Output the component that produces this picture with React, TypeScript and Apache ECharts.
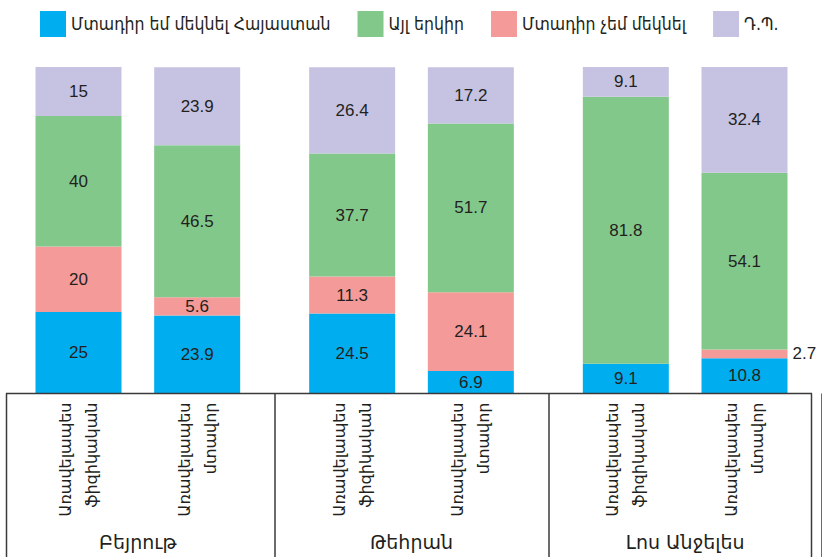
import React, { useEffect, useRef } from "react";
import * as echarts from "echarts";

const cities = ["Բեյրութ", "Թեհրան", "Լոս Անջելես"];
const subCategories = ["Առավելապես\nֆիզիկական", "Առավելապես\nմտավոր"];
const seriesNames = ["Մտադիր եմ մեկնել Հայաստան", "Այլ երկիր", "Մտադիր չեմ մեկնել", "Դ.Պ."];
const colors = ["#00AEEF", "#83C88B", "#F49A98", "#C6C3E2"];

// Առավելապես ֆիզիկական (physical)
const physReturn = [25, 24.5, 9.1];
const physOther = [40, 37.7, 81.8];
const physStay = [20, 11.3, 0];
const physDk = [15, 26.4, 9.1];

// Առավելապես մտավոր (mental)
const mentReturn = [23.9, 6.9, 10.8];
const mentOther = [46.5, 51.7, 54.1];
const mentStay = [5.6, 24.1, 2.7];
const mentDk = [23.9, 17.2, 32.4];

const ARM_FONT = "'DejaVu Sans', 'Liberation Sans', sans-serif";
const ARM_COND_FONT = "'DejaVu Sans Condensed', 'DejaVu Sans', sans-serif";
const NUM_FONT = "'Liberation Sans', Arial, sans-serif";
const TEXT_COLOR = "#231f20";
const LINE_COLOR = "#3a3a3a";

export default function App() {
  const ref = useRef<HTMLDivElement>(null);

  useEffect(() => {
    if (!ref.current) return;
    const chart = echarts.init(ref.current, null, { renderer: "svg" });

    const stacks = [
      { id: "phys", label: subCategories[0], values: [physReturn, physStay, physOther, physDk] },
      { id: "ment", label: subCategories[1], values: [mentReturn, mentStay, mentOther, mentDk] },
    ];
    // order bottom->top: return (blue), stay (pink), other (green), dk (lavender)
    const nameIdx = [0, 2, 1, 3];

    const series: any[] = [];
    stacks.forEach((s) => {
      series.push({
        type: "bar",
        name: "__" + s.id,
        stack: s.id,
        barWidth: 86,
        barGap: "38%",
        data: cities.map(() => 0),
        itemStyle: { color: "rgba(0,0,0,0)" },
        silent: true,
        label: {
          show: true,
          position: "bottom",
          distance: 9,
          rotate: 90,
          align: "right",
          verticalAlign: "middle",
          formatter: () => s.label,
          fontFamily: ARM_FONT,
          fontSize: 16,
          lineHeight: 26,
          color: TEXT_COLOR,
        },
      });
      s.values.forEach((vals, k) => {
        const ni = nameIdx[k];
        series.push({
          type: "bar",
          name: seriesNames[ni],
          stack: s.id,
          barWidth: 86,
          barGap: "38%",
          itemStyle: { color: colors[ni] },
          data: vals.map((v) =>
            v > 0 && v < 3
              ? { value: v, label: { position: "right", distance: 5 } }
              : v
          ),
          label: {
            show: true,
            position: "inside",
            formatter: (p: any) => (p.value === 0 ? "" : String(p.value)),
            fontFamily: NUM_FONT,
            fontSize: 17,
            color: TEXT_COLOR,
          },
        });
      });
    });

    const option: any = {
      animation: false,
      legend: {
        data: seriesNames,
        top: 6,
        left: 35,
        width: 785,
        itemWidth: 26,
        itemHeight: 26,
        itemGap: 27,
        icon: "rect",
        textStyle: { fontFamily: ARM_COND_FONT, fontSize: 17.5, color: TEXT_COLOR },
      },
      grid: { left: 1, width: 824, top: 67, bottom: 163.5 },
      xAxis: {
        type: "category",
        data: cities,
        axisLine: { show: false },
        axisTick: {
          show: true,
          length: 164,
          interval: (i: number) => i !== 0,
          lineStyle: { color: LINE_COLOR, width: 1.5 },
        },
        axisLabel: {
          margin: 139,
          fontFamily: ARM_FONT,
          fontSize: 19,
          color: TEXT_COLOR,
        },
      },
      yAxis: { type: "value", min: 0, max: 100, show: false },
      graphic: [
        {
          type: "line",
          z: 100,
          shape: { x1: 6, y1: 393.5, x2: 812, y2: 393.5 },
          style: { stroke: LINE_COLOR, lineWidth: 1.5 },
        },
        {
          type: "line",
          z: 100,
          shape: { x1: 6.5, y1: 393.5, x2: 6.5, y2: 557 },
          style: { stroke: LINE_COLOR, lineWidth: 1.5 },
        },
        {
          type: "line",
          z: 100,
          shape: { x1: 811.5, y1: 393.5, x2: 811.5, y2: 557 },
          style: { stroke: LINE_COLOR, lineWidth: 1.5 },
        },
      ],
      series,
    };

    chart.setOption(option);
    return () => chart.dispose();
  }, []);

  return <div ref={ref} style={{ width: 822, height: 557, position: "absolute", left: 0, top: 0 }} />;
}
